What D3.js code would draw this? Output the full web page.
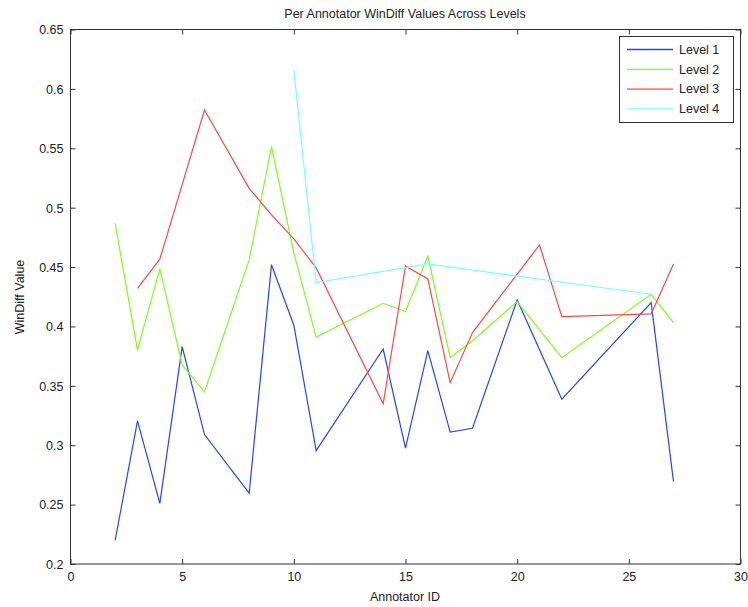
<!DOCTYPE html>
<html><head><meta charset="utf-8">
<script src="https://cdn.jsdelivr.net/npm/d3@7"></script>
<style>body{margin:0;background:#fff;} text{font-family:"Liberation Sans",Arial,sans-serif;}</style>
</head><body><svg id="c" width="748" height="607"></svg>
<script>
const level1X = [2,3,4,5,6,8,9,10,11,14,15,16,17,18,20,22,26,27];
const level1Y = [0.220,0.3205,0.251,0.383,0.309,0.2596,0.452,0.401,0.2955,0.381,0.2975,0.3796,0.311,0.3143,0.4223,0.3387,0.420,0.2694];
const level2X = [2,3,4,5,6,8,9,10,11,14,15,16,17,18,20,22,26,27];
const level2Y = [0.4868,0.380,0.4484,0.3676,0.345,0.456,0.5513,0.462,0.391,0.4195,0.4125,0.4593,0.3737,0.388,0.4209,0.3737,0.4271,0.4032];
const level3X = [3,4,6,8,9,10,11,14,15,16,17,18,21,22,26,27];
const level3Y = [0.4321,0.4566,0.5822,0.5163,0.494,0.4737,0.4493,0.3348,0.451,0.440,0.3527,0.3948,0.4686,0.4083,0.4105,0.4526];
const level4X = [10,11,16,26];
const level4Y = [0.616,0.437,0.4526,0.4271];
const seriesNames = ["Level 1","Level 2","Level 3","Level 4"];
const seriesColors = ["#2146ff","#7dff1e","#ff4646","#78ffff"];
const xTicks = [0,5,10,15,20,25,30];
const yTicks = [0.2,0.25,0.3,0.35,0.4,0.45,0.5,0.55,0.6,0.65];

(function(){
const svg = d3.select("#c");
const L=70.5, R=740.5, T=29.5, B=564;
const x = d3.scaleLinear().domain([0,30]).range([L,R]);
const y = d3.scaleLinear().domain([0.2,0.65]).range([B,T]);
const textCol="#222";

svg.append("rect").attr("x",L).attr("y",T).attr("width",R-L).attr("height",B-T)
  .attr("fill","none").attr("stroke","#333").attr("stroke-width",1);

const axB = d3.axisBottom(x).tickValues(xTicks).tickSize(-5).tickPadding(8).tickFormat(d3.format("d"));
const gx = svg.append("g").attr("transform",`translate(0,${B})`).call(axB);
const axT = d3.axisTop(x).tickValues(xTicks).tickSize(-5).tickFormat("");
const gxt = svg.append("g").attr("transform",`translate(0,${T})`).call(axT);
const axL = d3.axisLeft(y).tickValues(yTicks).tickSize(-5).tickPadding(7).tickFormat(d=>String(+d.toFixed(2)));
const gy = svg.append("g").attr("transform",`translate(${L},0)`).call(axL);
const axR = d3.axisRight(y).tickValues(yTicks).tickSize(-5).tickFormat("");
const gyr = svg.append("g").attr("transform",`translate(${R},0)`).call(axR);
[gx,gxt,gy,gyr].forEach(g=>{
  g.select(".domain").remove();
  g.selectAll("line").attr("stroke","#333");
  g.selectAll("text").attr("fill",textCol).style("font-size","12.5px").style("font-family","'Liberation Sans',Arial,sans-serif");
});
gy.selectAll("text").attr("dy","0.35em");

const data = [[level1X,level1Y],[level2X,level2Y],[level3X,level3Y],[level4X,level4Y]];
const line = d3.line().x(d=>x(d[0])).y(d=>y(d[1]));
data.forEach((s,i)=>{
  const pts = s[0].map((v,j)=>[v,s[1][j]]);
  svg.append("path").datum(pts).attr("d",line).attr("fill","none")
    .attr("stroke",seriesColors[i]).attr("stroke-width",1.2);
});

const lg = svg.append("g");
lg.append("rect").attr("x",619.5).attr("y",36.5).attr("width",114).attr("height",86)
  .attr("fill","#fff").attr("stroke","#333");
seriesNames.forEach((n,i)=>{
  const yy = 49.5 + i*19.8;
  lg.append("line").attr("x1",627).attr("x2",673).attr("y1",yy).attr("y2",yy)
    .attr("stroke",seriesColors[i]).attr("stroke-width",1.3);
  lg.append("text").attr("x",679).attr("y",yy).attr("dy","0.35em").attr("fill",textCol)
    .style("font-size","12.5px").text(n);
});

svg.append("text").attr("x",405).attr("y",18).attr("text-anchor","middle").attr("fill",textCol)
  .style("font-size","12.5px").text("Per Annotator WinDiff Values Across Levels");
svg.append("text").attr("x",405).attr("y",601).attr("text-anchor","middle").attr("fill",textCol)
  .style("font-size","12.5px").text("Annotator ID");
svg.append("text").attr("transform","translate(24,297) rotate(-90)").attr("text-anchor","middle").attr("fill",textCol)
  .style("font-size","12.5px").text("WinDiff Value");
})();
</script></body></html>
